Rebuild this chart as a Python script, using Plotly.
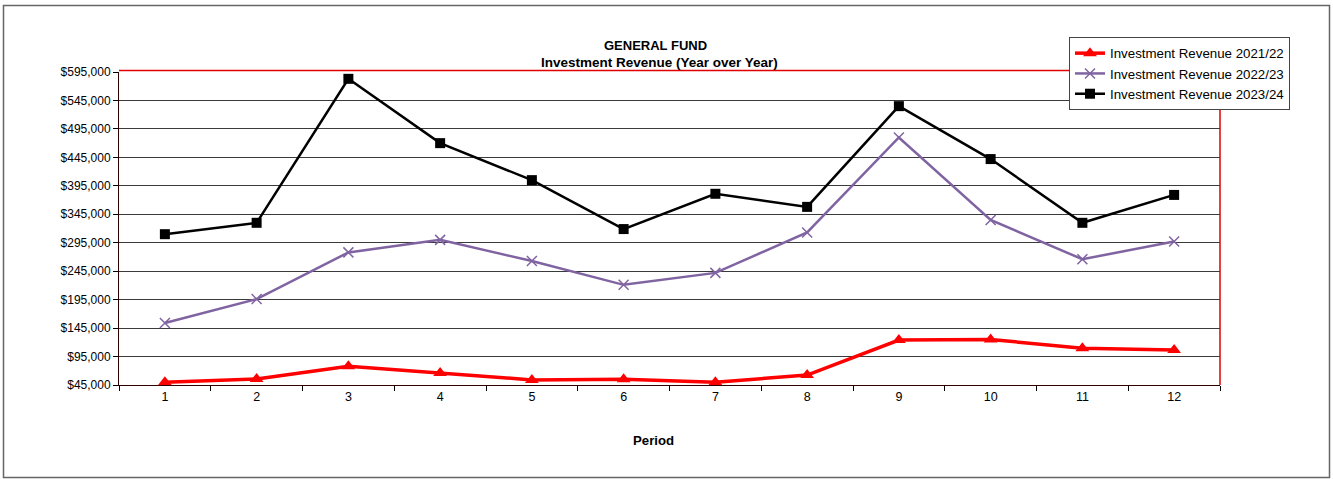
import plotly.graph_objects as go

periods = ["1", "2", "3", "4", "5", "6", "7", "8", "9", "10", "11", "12"]
rev_2021_22 = [50000, 55500, 78000, 66000, 54000, 55000, 50000, 62500, 124000, 125000, 109500, 106500]
rev_2022_23 = [154000, 196000, 278000, 300000, 263000, 221000, 242000, 313000, 480000, 335000, 266000, 297000]
rev_2023_24 = [310000, 330000, 583000, 470000, 405000, 319000, 381000, 358000, 535000, 442000, 330000, 379000]
series_names = ["Investment Revenue 2021/22", "Investment Revenue 2022/23", "Investment Revenue 2023/24"]
y_tickvals = [45000, 95000, 145000, 195000, 245000, 295000, 345000, 395000, 445000, 495000, 545000, 595000]
y_ticktext = ["$45,000", "$95,000", "$145,000", "$195,000", "$245,000", "$295,000",
              "$345,000", "$395,000", "$445,000", "$495,000", "$545,000", "$595,000"]

W, H = 1333, 479
L, R, T, B = 119, 113, 72, 94
pw, ph = W - L - R, H - T - B

def px_x(x):
    return (x - L) / pw

def px_y(y):
    return (H - B - y) / ph

FONT = "Liberation Sans, Arial, sans-serif"

fig = go.Figure()
fig.add_trace(go.Scatter(
    x=periods, y=rev_2021_22, name=series_names[0], mode="lines+markers",
    line=dict(color="#FF0000", width=3.5),
    marker=dict(symbol="triangle-up", size=12, color="#FF0000"),
    legendgroup="a"))
fig.add_trace(go.Scatter(
    x=periods, y=rev_2022_23, name=series_names[1], mode="lines+markers",
    line=dict(color="#8064A2", width=2.5),
    marker=dict(symbol="x-thin", size=10, line=dict(color="#8064A2", width=1.5)),
    legendgroup="b"))
fig.add_trace(go.Scatter(
    x=periods, y=rev_2023_24, name=series_names[2], mode="lines+markers",
    line=dict(color="#000000", width=2.5),
    marker=dict(symbol="square", size=10, color="#000000"),
    legendgroup="c"))

fig.update_layout(
    width=W, height=H,
    margin=dict(l=L, r=R, t=T, b=B),
    paper_bgcolor="white", plot_bgcolor="white",
    font=dict(family=FONT, size=12, color="black"),
    showlegend=True,
    legend=dict(
        x=px_x(1069), y=px_y(37), xanchor="left", yanchor="top",
        bgcolor="white", bordercolor="#444444", borderwidth=1,
        font=dict(family=FONT, size=13.3, color="black"),
        traceorder="grouped", tracegroupgap=0,
    ),
    xaxis=dict(
        type="category", range=[-0.5, 11.5],
        showgrid=False, zeroline=False,
        showline=True, linecolor="#300000", linewidth=1,
        ticks="outside", ticklen=5, tickcolor="black", tickson="boundaries",
        tickfont=dict(family=FONT, size=12.5, color="black"),
        fixedrange=True,
    ),
    yaxis=dict(
        range=[45000, 595000],
        tickvals=y_tickvals, ticktext=y_ticktext,
        showgrid=True, gridcolor="#3a3a3a", gridwidth=1,
        zeroline=False,
        showline=True, linecolor="#300000", linewidth=1,
        ticks="outside", ticklen=5, tickcolor="black",
        tickfont=dict(family=FONT, size=12, color="black"),
        fixedrange=True,
    ),
    shapes=[
        dict(type="line", xref="paper", yref="paper", x0=0, x1=1, y0=px_y(70.5), y1=px_y(70.5),
             line=dict(color="#E00000", width=1.5), layer="above"),
        dict(type="line", xref="paper", yref="paper", x0=1, x1=1, y0=0, y1=px_y(70.5),
             line=dict(color="#E00000", width=1.5), layer="above"),
        dict(type="rect", xref="paper", yref="paper",
             x0=px_x(3.5), x1=px_x(1329.5), y0=px_y(477.5), y1=px_y(5.5),
             line=dict(color="#666666", width=1.5), layer="below"),
    ],
    annotations=[
        dict(text="<b>GENERAL FUND</b>", xref="paper", yref="paper",
             x=px_x(655), y=px_y(45), xanchor="center", yanchor="middle",
             showarrow=False, font=dict(family=FONT, size=13, color="black")),
        dict(text="<b>Investment Revenue (Year over Year)</b>", xref="paper", yref="paper",
             x=px_x(659), y=px_y(62), xanchor="center", yanchor="middle",
             showarrow=False, font=dict(family=FONT, size=13.5, color="black")),
        dict(text="<b>Period</b>", xref="paper", yref="paper",
             x=px_x(653), y=px_y(440), xanchor="center", yanchor="middle",
             showarrow=False, font=dict(family=FONT, size=13.2, color="black")),
    ],
)

fig.write_html("out.html")
